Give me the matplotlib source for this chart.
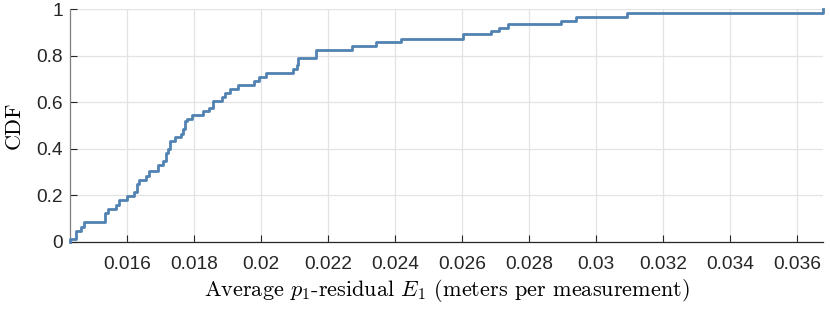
import numpy as np
import matplotlib
matplotlib.use("Agg")
import matplotlib.pyplot as plt

# step locations (average p1-residual, meters per measurement) and CDF level after each step
e1_steps = [0.01429, 0.01446, 0.01461, 0.01471, 0.01533, 0.01542, 0.01565, 0.01575,
            0.01600, 0.01620, 0.01628, 0.01635, 0.01655, 0.01665, 0.01693, 0.01706,
            0.01715, 0.01721, 0.01727, 0.01742, 0.01760, 0.01767, 0.01774, 0.01780,
            0.01792, 0.01827, 0.01844, 0.01857, 0.01882, 0.01892, 0.01907, 0.01931,
            0.01979, 0.01994, 0.02014, 0.02096, 0.02106, 0.02110, 0.02165, 0.02272,
            0.02344, 0.02419, 0.02602, 0.02685, 0.02709, 0.02737, 0.02895, 0.02939,
            0.03094, 0.03678]
cdf_levels = [0.012, 0.046, 0.064, 0.083, 0.122, 0.139, 0.158, 0.178,
              0.198, 0.213, 0.246, 0.267, 0.281, 0.303, 0.330, 0.346,
              0.380, 0.400, 0.432, 0.450, 0.464, 0.483, 0.520, 0.528,
              0.544, 0.561, 0.576, 0.607, 0.624, 0.641, 0.658, 0.676,
              0.690, 0.708, 0.725, 0.743, 0.761, 0.790, 0.823, 0.840,
              0.857, 0.873, 0.893, 0.907, 0.920, 0.935, 0.948, 0.968,
              0.985, 1.000]

x_ticks = [0.016, 0.018, 0.020, 0.022, 0.024, 0.026, 0.028, 0.030, 0.032, 0.034, 0.036]
x_tick_labels = ["0.016", "0.018", "0.02", "0.022", "0.024", "0.026", "0.028",
                 "0.03", "0.032", "0.034", "0.036"]
y_ticks = [0, 0.2, 0.4, 0.6, 0.8, 1]
y_tick_labels = ["0", "0.2", "0.4", "0.6", "0.8", "1"]

plt.rcParams['mathtext.fontset'] = 'cm'
plt.rcParams['font.family'] = ['Liberation Sans', 'DejaVu Sans']

fig = plt.figure(figsize=(8.30, 3.09), dpi=100)
ax = fig.add_axes([0.0843, 0.2181, 0.9073, 0.7521])

x = np.r_[e1_steps[0], e1_steps]
y = np.r_[0.0, cdf_levels]
ax.step(x, y, where='post', color='#5082b2', linewidth=2.0, clip_on=False, zorder=3)

ax.set_xlim(e1_steps[0], e1_steps[-1])
ax.set_ylim(0, 1)
ax.set_xticks(x_ticks)
ax.set_xticklabels(x_tick_labels)
ax.set_yticks(y_ticks)
ax.set_yticklabels(y_tick_labels)

ax.grid(True, color='#e3e3e3', linewidth=0.9)
ax.set_axisbelow(True)
for side in ['top', 'right']:
    ax.spines[side].set_visible(False)
ax.spines['left'].set_color('#7f7f7f')
ax.spines['bottom'].set_color('#262626')
ax.spines['left'].set_linewidth(0.9)
ax.spines['bottom'].set_linewidth(0.9)

ax.tick_params(axis='x', direction='in', length=5, width=0.8, colors='#262626',
               labelsize=13.8, pad=10.5, labelcolor='#262626')
ax.tick_params(axis='y', direction='in', length=5, width=0.8, colors='#262626',
               labelsize=13.8, pad=5, labelcolor='#262626')

ax.set_xlabel("Average $p_1$-residual $E_1$ (meters per measurement)",
              fontfamily='cmr10', fontsize=16, labelpad=3)
ax.set_ylabel("CDF", fontfamily='cmr10', fontsize=16, labelpad=9)

fig.savefig("out.png", dpi=100)
